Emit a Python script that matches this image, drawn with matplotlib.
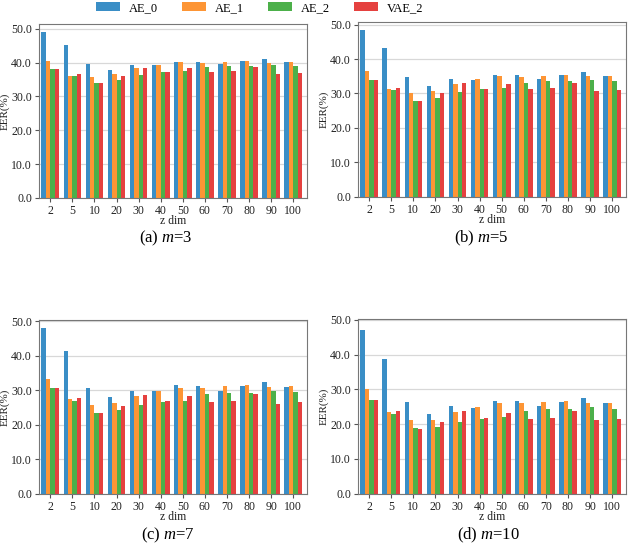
import numpy as np
import matplotlib
matplotlib.use('Agg')
import matplotlib.pyplot as plt

plt.rcParams['font.family'] = 'Liberation Serif'
plt.rcParams['mathtext.fontset'] = 'custom'
plt.rcParams['mathtext.rm'] = 'Liberation Serif'
plt.rcParams['mathtext.it'] = 'Liberation Serif:italic'

z_dims = ['2', '5', '10', '20', '30', '40', '50', '60', '70', '80', '90', '100']
models = ['AE_0', 'AE_1', 'AE_2', 'VAE_2']
colors = ['#3a8ec6', '#fd9535', '#4cb04a', '#e5413f']

# EER (%), one list per model
m3_ae0 = [49.0, 45.3, 39.6, 37.7, 39.3, 39.3, 40.2, 40.3, 39.5, 40.4, 41.0, 40.3]
m3_ae1 = [40.5, 36.1, 35.8, 36.5, 38.3, 39.4, 40.2, 39.9, 40.2, 40.5, 40.0, 40.3]
m3_ae2 = [38.1, 36.2, 34.0, 35.0, 36.4, 37.1, 37.6, 38.6, 39.0, 39.0, 39.3, 39.1]
m3_vae2 = [38.1, 36.5, 34.0, 36.1, 38.5, 37.2, 38.5, 37.2, 37.4, 38.7, 36.5, 37.0]

m5_ae0 = [48.4, 43.1, 34.7, 32.2, 34.1, 33.9, 35.3, 35.3, 34.2, 35.3, 36.2, 35.2]
m5_ae1 = [36.5, 31.2, 30.2, 30.6, 32.8, 34.1, 35.0, 34.8, 35.2, 35.5, 35.0, 35.2]
m5_ae2 = [33.8, 31.0, 27.9, 28.8, 30.5, 31.2, 31.6, 33.0, 33.5, 33.5, 34.0, 33.6]
m5_vae2 = [33.8, 31.5, 27.9, 30.0, 33.0, 31.4, 32.8, 31.2, 31.5, 33.1, 30.6, 31.0]

m7_ae0 = [48.0, 41.3, 30.8, 28.0, 29.9, 29.7, 31.4, 31.3, 29.9, 31.3, 32.3, 31.0]
m7_ae1 = [33.3, 27.4, 25.8, 26.2, 28.4, 29.9, 30.8, 30.8, 31.2, 31.5, 30.9, 31.1]
m7_ae2 = [30.7, 27.0, 23.4, 24.2, 25.8, 26.6, 27.0, 28.8, 29.3, 29.2, 29.9, 29.4]
m7_vae2 = [30.6, 27.9, 23.4, 25.5, 28.7, 26.8, 28.4, 26.7, 26.9, 28.8, 26.1, 26.7]

m10_ae0 = [47.2, 38.7, 26.5, 23.0, 25.1, 24.6, 26.8, 26.6, 25.1, 26.5, 27.6, 26.2]
m10_ae1 = [30.0, 23.4, 21.3, 21.2, 23.4, 25.0, 26.0, 26.0, 26.5, 26.6, 26.0, 26.2]
m10_ae2 = [26.9, 23.0, 19.0, 19.3, 20.6, 21.5, 22.0, 23.9, 24.5, 24.3, 25.0, 24.5]
m10_vae2 = [26.9, 23.9, 18.7, 20.7, 23.9, 21.7, 23.2, 21.5, 21.8, 23.7, 21.1, 21.4]

panels = [
    ('(a) $m$=3', [m3_ae0, m3_ae1, m3_ae2, m3_vae2]),
    ('(b) $m$=5', [m5_ae0, m5_ae1, m5_ae2, m5_vae2]),
    ('(c) $m$=7', [m7_ae0, m7_ae1, m7_ae2, m7_vae2]),
    ('(d) $m$=10', [m10_ae0, m10_ae1, m10_ae2, m10_vae2]),
]

# axes rectangles in figure fractions (left, bottom, width, height)
rects = [
    [0.062, 0.637, 0.426, 0.319],
    [0.569, 0.639, 0.426, 0.321],
    [0.062, 0.094, 0.426, 0.319],
    [0.569, 0.094, 0.426, 0.321],
]
# caption centres in pixels (x, y from top)
caption_pos = [(166, 238), (481, 238), (168, 535), (488, 535)]

W, H = 629, 545
fig = plt.figure(figsize=(W / 100, H / 100), dpi=100)

x = np.arange(len(z_dims))
w = 0.2
for (title, series), rect, (cx, cy) in zip(panels, rects, caption_pos):
    ax = fig.add_axes(rect)
    for k, vals in enumerate(series):
        ax.bar(x + (k - 1.5) * w, vals, width=w, color=colors[k], label=models[k])
    top = max(max(s) for s in series)
    ax.set_ylim(0, max(50.3, top * 1.05))
    ax.set_xlim(-0.51, 11.62)
    ax.set_yticks(np.arange(0, 51, 10))
    ax.set_yticklabels(['%.1f' % v for v in np.arange(0, 51, 10)])
    ax.set_xticks(x)
    ax.set_xticklabels(z_dims)
    ax.tick_params(labelsize=8.5, length=3, color='#555555', pad=2, labelcolor='#222222')
    ax.grid(axis='y', color='#d8d8d8', linewidth=0.9)
    ax.set_axisbelow(True)
    for sp in ax.spines.values():
        sp.set_color('#777777')
    ax.set_ylabel('EER(%)', fontsize=8, labelpad=1, color='#222222')
    ax.set_xlabel('z dim', fontsize=8.5, labelpad=-1, color='#222222')
    fig.text(cx / W, 1 - cy / H, title, ha='center', va='center', fontsize=12)

handles, labels = fig.axes[0].get_legend_handles_labels()
fig.legend(handles, labels, loc='center', ncol=4, frameon=False, fontsize=9,
           bbox_to_anchor=(0.413, 1 - 8 / H), handlelength=1.9, handleheight=0.7,
           columnspacing=1.95, handletextpad=0.7)

fig.savefig('out.png', dpi=100)
